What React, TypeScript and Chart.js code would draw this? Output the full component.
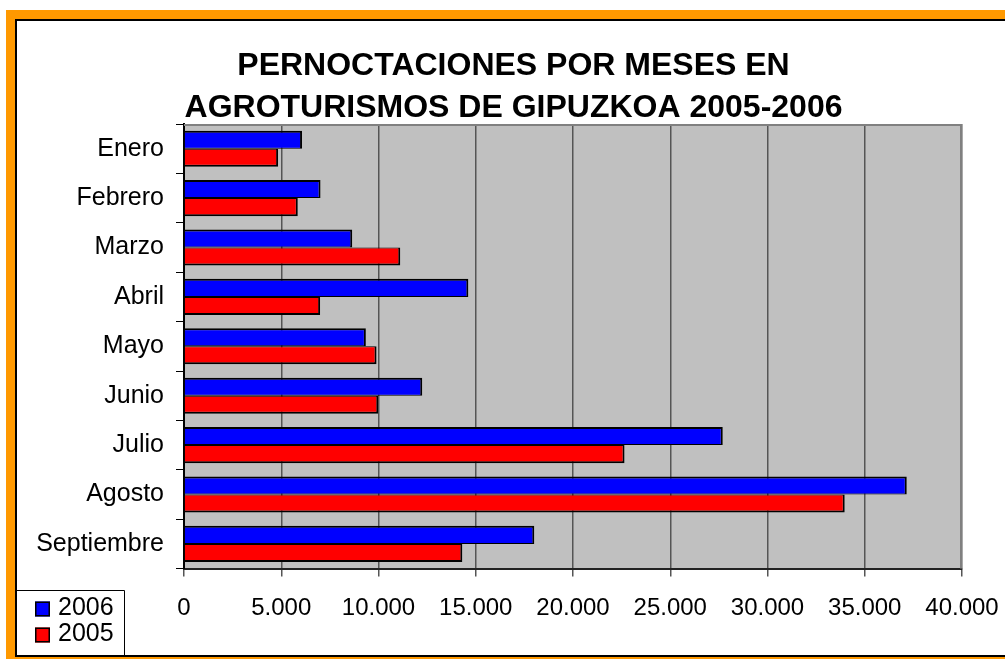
import React, { useEffect, useRef } from "react";
import { Chart, registerables } from "chart.js";

Chart.register(...registerables);

const months = ["Enero", "Febrero", "Marzo", "Abril", "Mayo", "Junio", "Julio", "Agosto", "Septiembre"];
const values2006 = [6070, 7020, 8650, 14620, 9350, 12250, 27700, 37160, 18010];
const values2005 = [4840, 5850, 11120, 7000, 9900, 9990, 22650, 33970, 14310];
const titleLines = ["PERNOCTACIONES POR MESES EN", "AGROTURISMOS DE GIPUZKOA 2005-2006"];
const seriesLabels = ["2006", "2005"];
const seriesColors = ["#0000FF", "#FF0000"];

const FONT = "'Liberation Sans', Arial, sans-serif";

const fmt = (v: number) => String(Math.round(v)).replace(/\B(?=(\d{3})+(?!\d))/g, ".");

const plotBg = {
  id: "plotBg",
  beforeDraw(chart: any) {
    const { ctx, chartArea: a } = chart;
    ctx.save();
    ctx.fillStyle = "#C0C0C0";
    ctx.fillRect(a.left, a.top, a.right - a.left, a.bottom - a.top);
    ctx.restore();
  },
  afterDatasetsDraw(chart: any) {
    const { ctx, chartArea: a } = chart;
    ctx.save();
    ctx.strokeStyle = "#808080";
    ctx.lineWidth = 2;
    ctx.beginPath();
    ctx.moveTo(a.left, a.top + 1);
    ctx.lineTo(a.right - 1, a.top + 1);
    ctx.lineTo(a.right - 1, a.bottom);
    ctx.stroke();
    ctx.restore();
  },
};

const boxLegend = {
  id: "boxLegend",
  afterDraw(chart: any) {
    const { ctx } = chart;
    ctx.save();
    ctx.strokeStyle = "#000";
    ctx.lineWidth = 1;
    ctx.beginPath();
    ctx.moveTo(0, 569.5);
    ctx.lineTo(107.5, 569.5);
    ctx.lineTo(107.5, 640);
    ctx.stroke();
    ctx.font = `25px ${FONT}`;
    ctx.textBaseline = "middle";
    ctx.textAlign = "left";
    chart.data.datasets.forEach((ds: any, i: number) => {
      const cy = 587.5 + i * 26;
      ctx.fillStyle = ds.backgroundColor;
      ctx.fillRect(18, cy - 7, 15, 15);
      ctx.strokeStyle = "#000";
      ctx.lineWidth = 1.5;
      ctx.strokeRect(18.75, cy - 6.25, 13.5, 13.5);
      ctx.fillStyle = "#000";
      ctx.fillText(ds.label, 41, cy);
    });
    ctx.restore();
  },
};

export default function App() {
  const ref = useRef<HTMLCanvasElement | null>(null);
  useEffect(() => {
    document.body.style.margin = "0";
    const chart = new Chart(ref.current as HTMLCanvasElement, {
      type: "bar",
      data: {
        labels: months,
        datasets: [
          {
            label: seriesLabels[0],
            data: values2006,
            backgroundColor: seriesColors[0],
            borderColor: "#000",
            borderWidth: { top: 2, bottom: 1, right: 2, left: 0 },
            borderSkipped: false,
            categoryPercentage: 0.73,
            barPercentage: 1,
          },
          {
            label: seriesLabels[1],
            data: values2005,
            backgroundColor: seriesColors[1],
            borderColor: "#000",
            borderWidth: { top: 1, bottom: 2, right: 2, left: 0 },
            borderSkipped: false,
            categoryPercentage: 0.73,
            barPercentage: 1,
          },
        ],
      },
      options: {
        indexAxis: "y",
        animation: false,
        responsive: false,
        maintainAspectRatio: false,
        layout: { padding: { left: 48, right: 43, top: 0, bottom: 0 } },
        plugins: {
          legend: { display: false },
          tooltip: { enabled: false },
          title: {
            display: true,
            text: titleLines,
            color: "#000",
            font: { family: FONT, size: 32, weight: "bold", lineHeight: 1.3125 },
            padding: { top: 24, bottom: -5 },
          },
        },
        scales: {
          x: {
            min: 0,
            max: 40000,
            afterFit: (s: any) => {
              s.height = 86.4;
              s.paddingRight = 0;
              s.paddingLeft = 0;
            },
            ticks: {
              stepSize: 5000,
              color: "#000",
              font: { family: FONT, size: 24 },
              padding: 17,
              maxRotation: 0,
              callback: (v: any) => fmt(Number(v)),
            },
            grid: { color: "#555", lineWidth: 1.5, tickLength: 8, drawTicks: true },
            border: { display: true, color: "#222", width: 2 },
          },
          y: {
            afterFit: (s: any) => {
              s.width = 119;
              s._computeLabelArea = () => undefined;
            },
            ticks: { color: "#000", font: { family: FONT, size: 25 }, padding: 12 },
            grid: { drawOnChartArea: false, drawTicks: true, tickLength: 8, color: "#000", offset: true },
            border: { display: true, color: "#000", width: 2 },
          },
        },
      },
      plugins: [plotBg, boxLegend],
    });
    return () => chart.destroy();
  }, []);

  return (
    <div style={{ position: "relative", width: 1005, height: 659, overflow: "hidden", background: "#fff" }}>
      <div
        style={{
          position: "absolute",
          left: 6,
          top: 10,
          width: 1030,
          height: 656,
          boxSizing: "border-box",
          border: "9px solid #FF9900",
        }}
      >
        <div
          style={{
            position: "absolute",
            left: 0,
            top: 0,
            right: 0,
            bottom: 0,
            borderLeft: "2px solid #000",
            borderTop: "2px solid #000",
            borderBottom: "2px solid #000",
            background: "#fff",
          }}
        />
      </div>
      <canvas
        ref={ref}
        width={988}
        height={634}
        style={{ position: "absolute", left: 17, top: 21, width: 988, height: 634 }}
      />
    </div>
  );
}
